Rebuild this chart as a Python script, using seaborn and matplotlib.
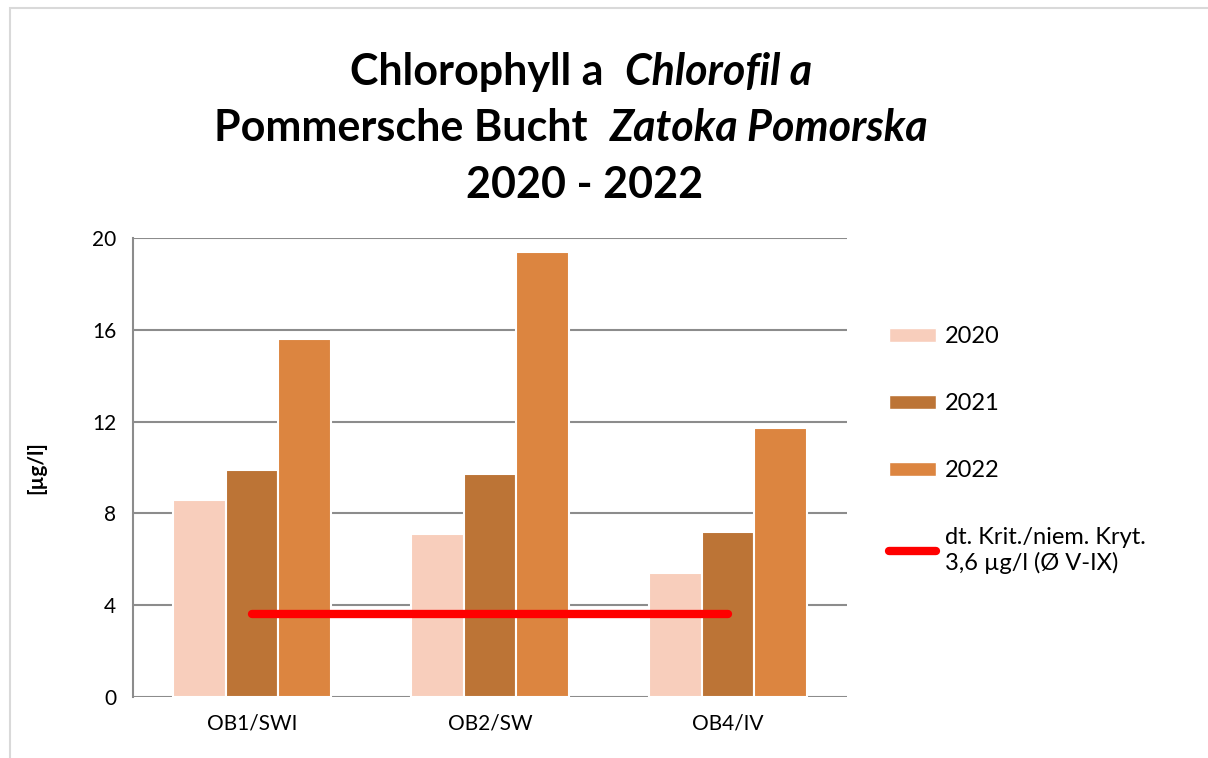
import matplotlib
matplotlib.use("Agg")
import matplotlib.pyplot as plt
from matplotlib.patches import Patch, Rectangle
from matplotlib.lines import Line2D
import seaborn as sns
import pandas as pd

# Daten
stations = ["OB1/SWI", "OB2/SW", "OB4/IV"]
years = ["2020", "2021", "2022"]
chl_2020 = [8.6, 7.1, 5.4]
chl_2021 = [9.9, 9.7, 7.2]
chl_2022 = [15.6, 19.4, 11.7]
criterion = [3.6, 3.6, 3.6]
yticks = [0, 4, 8, 12, 16, 20]

colors = ["#F8CEBC", "#BC7436", "#DC8540"]
crit_label = "dt. Krit./niem. Kryt.\n3,6 µg/l (Ø V-IX)"

sns.set_theme(style="white")
plt.rcParams['font.family'] = ['Lato', 'DejaVu Sans']
plt.rcParams['text.color'] = 'black'
plt.rcParams['axes.labelcolor'] = 'black'

df = pd.DataFrame({
    "station": stations * 3,
    "year": [y for y in years for _ in stations],
    "value": chl_2020 + chl_2021 + chl_2022,
})

fig = plt.figure(figsize=(12.08, 7.58), dpi=100)
ax = fig.add_axes([133 / 1208, 61 / 758, 714 / 1208, 459 / 758])

sns.barplot(data=df, x="station", y="value", hue="year", palette=colors,
            saturation=1, width=0.66, edgecolor="white", linewidth=1.5,
            legend=False, ax=ax)
sns.lineplot(x=stations, y=criterion, color="red", linewidth=6,
             solid_capstyle="round", ax=ax, legend=False)

ax.set_ylim(0, 20)
ax.set_xlim(-0.5, 2.5)
ax.set_yticks(yticks)
ax.yaxis.grid(True, color="#8c8c8c", linewidth=1.5)
ax.set_axisbelow(True)
for s in ["top", "right", "bottom"]:
    ax.spines[s].set_visible(False)
ax.spines["left"].set_color("#8c8c8c")
ax.spines["left"].set_linewidth(1.5)
ax.tick_params(axis="both", length=0, labelsize=15, colors="black", pad=12)
ax.set_xlabel("")
ax.set_ylabel("[µg/l]", fontsize=15, fontweight="bold", labelpad=33)

handles = [Patch(facecolor=c, edgecolor="white") for c in colors]
handles.append(Line2D([0], [0], color="red", linewidth=6, solid_capstyle="round"))
fig.legend(handles, years + [crit_label], loc="upper left",
           bbox_to_anchor=(868 / 1208, 1 - 305 / 758), frameon=False,
           fontsize=17, handlelength=2.0, handleheight=0.55,
           labelspacing=1.95, handletextpad=0.35)

# Titel
tsize = 31
fig.text(603 / 1208, 1 - 72 / 758, "Chlorophyll a", ha="right", va="center",
         fontsize=tsize, fontweight="bold")
fig.text(625 / 1208, 1 - 72 / 758, "Chlorofil a", ha="left", va="center",
         fontsize=tsize, fontweight="bold", fontstyle="italic")
fig.text(588 / 1208, 1 - 128 / 758, "Pommersche Bucht", ha="right", va="center",
         fontsize=tsize, fontweight="bold")
fig.text(610 / 1208, 1 - 128 / 758, "Zatoka Pomorska", ha="left", va="center",
         fontsize=tsize, fontweight="bold", fontstyle="italic")
fig.text(585 / 1208, 1 - 185 / 758, "2020 - 2022", ha="center", va="center",
         fontsize=tsize, fontweight="bold")

# Rahmen
fig.add_artist(Rectangle((10 / 1208, -0.05), 1.1, 1 - 8 / 758 + 0.05,
                         transform=fig.transFigure, fill=False,
                         edgecolor="#d9d9d9", linewidth=1.5))

fig.savefig("out.png", dpi=100)
